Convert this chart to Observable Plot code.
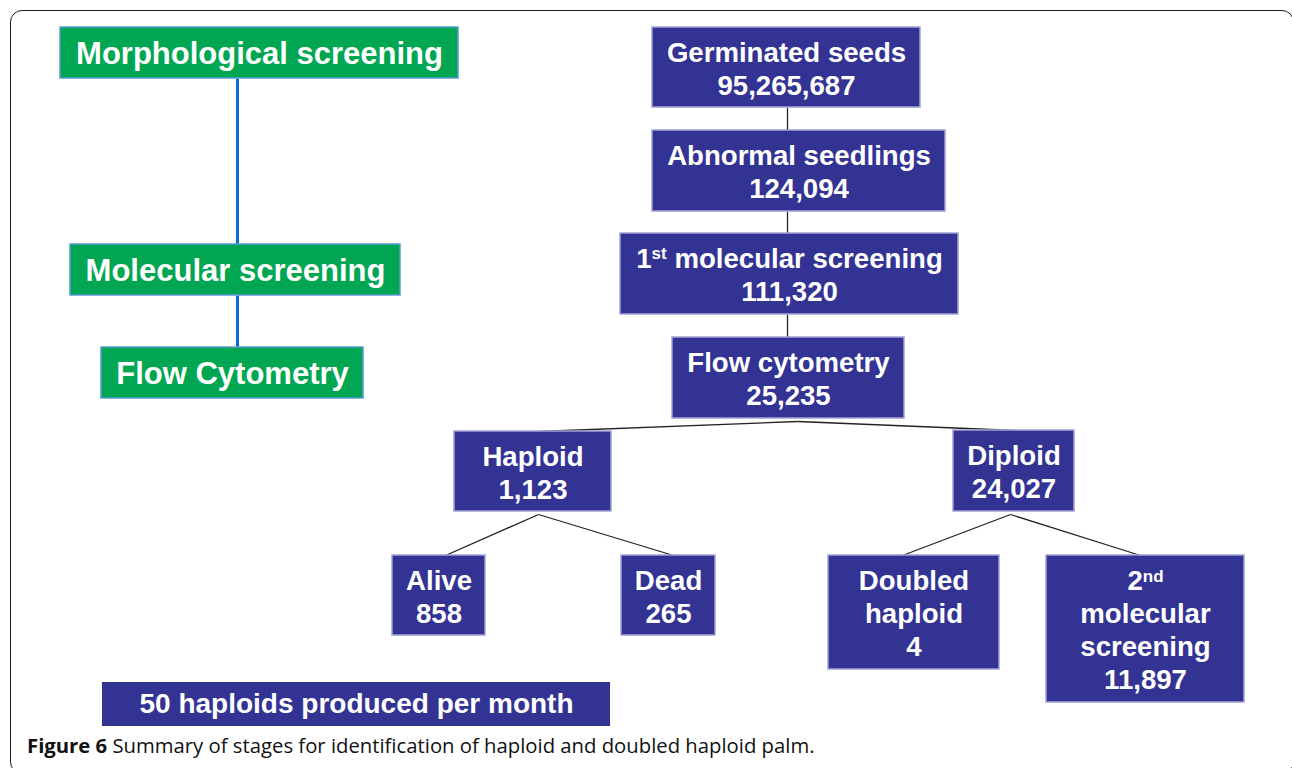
<!DOCTYPE html>
<html>
<head>
<meta charset="utf-8">
<script src="https://cdn.jsdelivr.net/npm/d3@7"></script>
<script src="https://cdn.jsdelivr.net/npm/@observablehq/plot@0.6"></script>
<style>
  html, body { margin: 0; padding: 0; background: #fff; overflow: hidden; }
  #wrap { position: relative; width: 1292px; height: 768px; }
  #frame { position: absolute; left: 10px; top: 10px; width: 1284px; height: 764px;
           border: 1.6px solid #1a1a1a; border-radius: 12px; box-sizing: border-box; }
  #chart { position: absolute; left: 0; top: 0; }
  #caption { position: absolute; left: 27px; top: 733px; font-family: "Open Sans", sans-serif;
             font-size: 20.3px; line-height: 24px; color: #111; white-space: nowrap; }
  #caption b { font-weight: 700; }
</style>
</head>
<body>
<div id="wrap">
  <div id="frame"></div>
  <div id="chart"></div>
  <div id="caption"><b>Figure 6</b> Summary of stages for identification of haploid and doubled haploid palm.</div>
</div>
<script>
// ---- Data ----
const stageNames = ["Morphological screening", "Molecular screening", "Flow Cytometry"];

const nodeNames = ["Germinated seeds", "Abnormal seedlings", "1st molecular screening", "Flow cytometry",
                   "Haploid", "Diploid", "Alive", "Dead", "Doubled\nhaploid", "2nd\nmolecular\nscreening"];
const nodeCounts = [95265687, 124094, 111320, 25235, 1123, 24027, 858, 265, 4, 11897];
const nodeParent = [null, 0, 1, 2, 3, 3, 4, 4, 5, 5];

const summaryText = "50 haploids produced per month";

// ---- Layout (diagram units = pixels) ----
const stageLeft   = [60, 70, 101];
const stageRight  = [458, 400, 363];
const stageTop    = [27, 244, 347];
const stageBottom = [78, 295, 398];
const stageSpineX = 237;

const nodeLeft   = [652, 652, 620, 672, 454, 953, 392, 621, 828, 1046];
const nodeRight  = [920, 945, 958, 904, 611, 1074, 485, 715, 999, 1244];
const nodeTop    = [27, 130, 233, 337, 431, 430, 555, 555, 555, 555];
const nodeBottom = [107, 211, 314, 418, 511, 511, 635, 635, 669, 702];
const edgeChildX  = [null, 787, 787, 787, 538, 1015, 445, 673, 902, 1140];
const edgeParentX = [null, 787, 787, 787, 797, 797, 538, 538, 1010, 1010];
const edgeParentGap = [null, 0, 0, 0, 3, 3, 3, 3, 3, 3];

const summaryBox = {x1: 102, x2: 610, y1: 682, y2: 726};

// ---- Build tables ----
const fmt = d3.format(",");
const stages = stageNames.map((name, i) => ({
  name, x1: stageLeft[i], x2: stageRight[i], y1: stageTop[i], y2: stageBottom[i]
}));
const nodes = nodeNames.map((name, i) => ({
  label: name + "\n" + fmt(nodeCounts[i]),
  x1: nodeLeft[i], x2: nodeRight[i], y1: nodeTop[i], y2: nodeBottom[i]
}));
const edges = nodeParent.map((p, i) => p === null ? null : ({
  x1: edgeParentX[i], y1: nodeBottom[p] + edgeParentGap[i], x2: edgeChildX[i], y2: nodeTop[i]
})).filter(d => d);
const spine = stages.slice(1).map((s, i) => ({
  x1: stageSpineX, y1: stages[i].y2, x2: stageSpineX, y2: s.y1
}));

const W = 1292, H = 735;
const font = "'Liberation Sans', Arial, Helvetica, sans-serif";
const blue = "#333393";
const green = "#00a651";

const chart = Plot.plot({
  width: W, height: H, margin: 0,
  style: {fontFamily: font, background: "transparent"},
  x: {domain: [0, W], range: [0, W], axis: null},
  y: {domain: [0, H], range: [0, H], axis: null},
  marks: [
    Plot.link(spine, {x1: "x1", y1: "y1", x2: "x2", y2: "y2", stroke: "#0a6fc2", strokeWidth: 3}),
    Plot.link(edges, {x1: "x1", y1: "y1", x2: "x2", y2: "y2", stroke: "#222", strokeWidth: 1.3}),
    Plot.rect(stages, {x1: "x1", x2: "x2", y1: "y1", y2: "y2", fill: green, stroke: "#5b9bd5", strokeWidth: 1.5}),
    Plot.rect(nodes, {x1: "x1", x2: "x2", y1: "y1", y2: "y2", fill: blue, stroke: "#a3a3d6", strokeWidth: 1.5}),
    Plot.rect([summaryBox], {x1: "x1", x2: "x2", y1: "y1", y2: "y2", fill: blue}),
    Plot.text(stages, {x: d => (d.x1 + d.x2) / 2, y: d => (d.y1 + d.y2) / 2 + 1, text: "name",
      fill: "white", fontSize: 31, fontWeight: "bold"}),
    Plot.text(nodes, {x: d => (d.x1 + d.x2) / 2, y: d => (d.y1 + d.y2) / 2, text: "label",
      fill: "white", fontSize: 27.6, fontWeight: "bold", lineHeight: 1.2, lineAnchor: "middle"}),
    Plot.text([summaryBox], {x: d => (d.x1 + d.x2) / 2, y: d => (d.y1 + d.y2) / 2, text: () => summaryText,
      fill: "white", fontSize: 28, fontWeight: "bold"})
  ]
});

// Superscript ordinals (1st, 2nd) as real text
const NS = "http://www.w3.org/2000/svg";
chart.querySelectorAll("text, tspan").forEach(el => {
  Array.from(el.childNodes).forEach(n => {
    if (n.nodeType !== 3) return;
    const m = n.nodeValue.match(/^(\d)(st|nd)(.*)$/s);
    if (!m) return;
    const frag = document.createDocumentFragment();
    frag.appendChild(document.createTextNode(m[1]));
    const sup = document.createElementNS(NS, "tspan");
    sup.setAttribute("font-size", "17");
    sup.setAttribute("baseline-shift", m[2] === "st" ? "9" : "8");
    sup.textContent = m[2];
    frag.appendChild(sup);
    if (m[3]) {
      const rest = document.createElementNS(NS, "tspan");
      rest.textContent = m[3];
      frag.appendChild(rest);
    }
    el.replaceChild(frag, n);
  });
});

document.getElementById("chart").appendChild(chart);
</script>
</body>
</html>
